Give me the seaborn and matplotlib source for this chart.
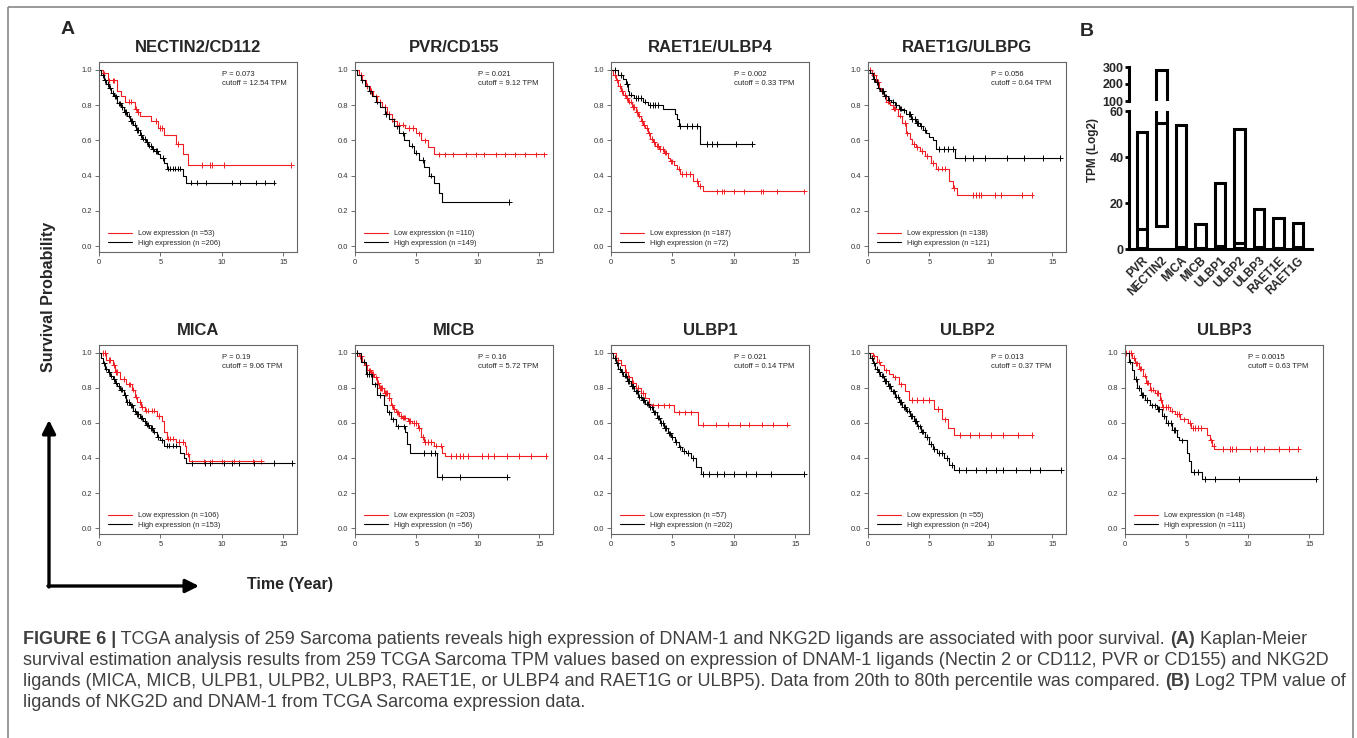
import numpy as np
import pandas as pd
import seaborn as sns
import matplotlib.pyplot as plt
from matplotlib.lines import Line2D
from matplotlib.patches import Rectangle

# ---------------- Kaplan-Meier data (years, survival probability) ----------------
# NECTIN2/CD112
nectin2_low_t = [0, 0.3, 0.7, 1.5, 1.8, 2.1, 2.9, 3.1, 3.3, 4.25, 4.8, 5.3, 6.3, 6.8, 7.2, 15.6]
nectin2_low_s = [1.0, 0.98, 0.94, 0.88, 0.85, 0.82, 0.78, 0.76, 0.74, 0.71, 0.67, 0.63, 0.58, 0.52, 0.46, 0.46]
nectin2_low_c = [0.4, 0.8, 1.1, 1.2, 2.4, 2.6, 3.0, 3.15, 4.6, 5.0, 5.1, 6.4, 8.4, 9.0, 9.2, 10.2, 15.6]
nectin2_high_t = [0, 0.2, 0.4, 0.6, 0.8, 1.0, 1.2, 1.5, 1.8, 2.0, 2.3, 2.5, 2.8, 3.0, 3.3, 3.5, 3.8, 4.0,
                  4.3, 4.5, 4.8, 5.0, 5.3, 5.5, 6.8, 7.1, 14.2]
nectin2_high_s = [1.0, 0.97, 0.94, 0.92, 0.90, 0.87, 0.85, 0.81, 0.79, 0.76, 0.74, 0.71, 0.69, 0.66, 0.63, 0.61,
                  0.59, 0.57, 0.55, 0.54, 0.52, 0.50, 0.47, 0.44, 0.40, 0.36, 0.36]
nectin2_high_c = [0.3, 0.5, 0.7, 0.9, 1.1, 1.3, 1.4, 1.6, 1.7, 1.9, 2.1, 2.2, 2.4, 2.6, 2.7, 2.9, 3.1, 3.2, 3.4,
                  3.6, 3.7, 3.9, 4.1, 4.2, 4.4, 4.6, 4.7, 5.2, 5.6, 5.8, 6.0, 6.2, 6.4, 6.6, 7.5, 8.0, 8.7,
                  10.8, 11.5, 12.8, 13.5, 14.2]

# PVR/CD155
pvr_low_t = [0, 0.3, 0.6, 0.9, 1.2, 1.5, 1.8, 2.2, 2.6, 3.0, 3.4, 4.1, 5.0, 5.4, 5.9, 6.4, 15.4]
pvr_low_s = [1.0, 0.97, 0.94, 0.91, 0.88, 0.85, 0.82, 0.79, 0.75, 0.71, 0.69, 0.67, 0.64, 0.60, 0.56, 0.52, 0.52]
pvr_low_c = [0.5, 1.0, 1.3, 1.7, 2.0, 2.4, 2.8, 3.2, 3.6, 3.9, 4.4, 4.7, 5.2, 5.7, 6.8, 7.3, 8.0, 9.0, 9.8,
             10.5, 11.5, 12.2, 13.0, 13.8, 14.7, 15.4]
pvr_high_t = [0, 0.2, 0.5, 0.8, 1.1, 1.4, 1.7, 2.0, 2.4, 2.8, 3.2, 3.6, 4.0, 4.4, 4.8, 5.2, 5.6, 6.0, 6.4, 6.8,
              7.1, 12.5]
pvr_high_s = [1.0, 0.97, 0.94, 0.91, 0.88, 0.85, 0.82, 0.79, 0.75, 0.72, 0.68, 0.64, 0.60, 0.57, 0.53, 0.49,
              0.45, 0.40, 0.36, 0.30, 0.25, 0.25]
pvr_high_c = [0.6, 1.2, 1.8, 2.5, 3.0, 3.4, 3.9, 4.6, 5.0, 5.5, 6.2, 12.5]

# RAET1E/ULBP4
raet1e_low_t = [0, 0.2, 0.4, 0.6, 0.8, 1.0, 1.2, 1.4, 1.7, 2.0, 2.2, 2.4, 2.6, 2.8, 3.0, 3.2, 3.4, 3.6, 3.9,
                4.3, 4.6, 4.8, 5.1, 5.4, 5.6, 6.7, 7.1, 7.5, 15.7]
raet1e_low_s = [1.0, 0.97, 0.94, 0.91, 0.88, 0.86, 0.84, 0.82, 0.79, 0.76, 0.74, 0.71, 0.69, 0.67, 0.64, 0.61,
                0.59, 0.57, 0.55, 0.53, 0.50, 0.48, 0.46, 0.44, 0.41, 0.37, 0.34, 0.31, 0.31]
raet1e_low_c = [0.3, 0.5, 0.7, 0.9, 1.1, 1.3, 1.5, 1.6, 1.8, 1.9, 2.1, 2.3, 2.5, 2.7, 2.9, 3.1, 3.3, 3.5, 3.7,
                3.8, 4.0, 4.2, 4.4, 4.5, 4.9, 5.0, 5.5, 5.8, 6.1, 6.4, 7.0, 7.2, 8.6, 9.0, 9.2, 10.0, 10.8,
                12.2, 12.4, 13.5, 15.7]
raet1e_high_t = [0, 0.6, 1.0, 1.2, 1.35, 1.5, 1.9, 2.6, 3.0, 4.25, 5.2, 5.35, 5.5, 7.2, 11.45]
raet1e_high_s = [1.0, 0.97, 0.95, 0.92, 0.88, 0.86, 0.84, 0.82, 0.80, 0.78, 0.75, 0.72, 0.68, 0.58, 0.58]
raet1e_high_c = [0.3, 0.8, 1.3, 1.6, 2.0, 2.2, 2.4, 2.8, 3.2, 3.4, 3.6, 3.8, 5.6, 6.2, 6.6, 7.0, 7.8, 8.2, 8.6,
                 10.2, 11.45]

# RAET1G/ULBPG
raet1g_low_t = [0, 0.3, 0.65, 0.9, 1.05, 1.3, 1.5, 1.8, 2.0, 2.4, 2.8, 3.1, 3.4, 3.6, 3.9, 4.2, 4.6, 5.1, 5.5,
                6.6, 6.9, 7.2, 13.3]
raet1g_low_s = [1.0, 0.97, 0.93, 0.90, 0.88, 0.85, 0.82, 0.80, 0.78, 0.74, 0.70, 0.64, 0.61, 0.58, 0.56, 0.54,
                0.51, 0.47, 0.44, 0.37, 0.33, 0.29, 0.29]
raet1g_low_c = [0.2, 0.5, 0.8, 1.1, 1.2, 1.6, 1.7, 2.1, 2.2, 2.6, 3.0, 3.2, 3.7, 4.0, 4.4, 4.8, 5.3, 5.7, 6.0,
                6.3, 7.0, 8.5, 8.8, 9.0, 9.2, 10.3, 10.8, 12.5, 13.3]
raet1g_high_t = [0, 0.2, 0.4, 0.6, 0.8, 1.0, 1.3, 1.6, 1.9, 2.2, 2.5, 2.8, 3.1, 3.5, 3.9, 4.2, 4.5, 4.7, 5.0,
                 5.3, 5.5, 7.1, 15.6]
raet1g_high_s = [1.0, 0.98, 0.95, 0.93, 0.90, 0.88, 0.85, 0.83, 0.82, 0.80, 0.78, 0.77, 0.75, 0.72, 0.70, 0.68,
                 0.66, 0.64, 0.62, 0.60, 0.55, 0.50, 0.50]
raet1g_high_c = [0.3, 0.5, 0.7, 0.9, 1.1, 1.2, 1.4, 1.5, 1.7, 2.0, 2.3, 2.6, 2.7, 2.9, 3.3, 3.4, 3.6, 3.8, 4.0,
                 4.1, 4.3, 4.6, 5.8, 6.2, 6.5, 6.9, 7.9, 8.5, 9.5, 11.3, 12.7, 14.2, 15.6]

# MICA
mica_low_t = [0, 0.6, 1.1, 1.3, 1.7, 2.2, 2.7, 2.9, 3.1, 3.4, 3.7, 4.7, 5.1, 5.3, 5.5, 6.3, 7.0, 7.1, 7.3, 13.2]
mica_low_s = [1.0, 0.96, 0.93, 0.89, 0.85, 0.82, 0.79, 0.75, 0.72, 0.69, 0.67, 0.64, 0.61, 0.55, 0.51, 0.49,
              0.47, 0.42, 0.38, 0.38]
mica_low_c = [0.3, 0.5, 0.8, 0.9, 1.2, 1.4, 1.5, 2.0, 2.4, 2.5, 2.8, 3.0, 3.3, 3.5, 3.8, 4.0, 4.3, 4.5, 4.9,
              5.6, 5.8, 6.0, 6.5, 6.8, 7.2, 8.5, 9.2, 10.0, 11.0, 12.5, 13.2]
mica_high_t = [0, 0.15, 0.3, 0.5, 0.7, 0.9, 1.1, 1.3, 1.5, 1.7, 2.0, 2.2, 2.5, 2.8, 3.0, 3.3, 3.6, 3.85, 4.1,
               4.4, 4.7, 5.0, 5.3, 6.6, 6.9, 7.05, 15.7]
mica_high_s = [1.0, 0.97, 0.94, 0.91, 0.89, 0.87, 0.85, 0.83, 0.81, 0.79, 0.76, 0.72, 0.70, 0.67, 0.65, 0.63,
               0.61, 0.59, 0.57, 0.55, 0.52, 0.50, 0.47, 0.43, 0.40, 0.37, 0.37]
mica_high_c = [0.4, 0.6, 0.8, 1.0, 1.2, 1.4, 1.6, 1.8, 1.9, 2.1, 2.3, 2.4, 2.6, 2.7, 2.9, 3.1, 3.2, 3.4, 3.5,
               3.7, 3.9, 4.0, 4.2, 4.3, 4.5, 4.8, 5.1, 5.5, 5.7, 6.0, 6.3, 7.6, 8.6, 9.0, 10.2, 10.8, 11.4,
               12.6, 14.2, 15.7]

# MICB
micb_low_t = [0, 0.3, 0.6, 0.8, 1.0, 1.3, 1.55, 1.8, 1.95, 2.35, 2.75, 2.9, 3.1, 3.3, 3.6, 3.85, 4.3, 4.65,
              5.1, 5.35, 5.6, 6.4, 7.1, 7.3, 15.5]
micb_low_s = [1.0, 0.98, 0.95, 0.93, 0.90, 0.88, 0.86, 0.83, 0.80, 0.77, 0.74, 0.70, 0.68, 0.66, 0.64, 0.63,
              0.61, 0.60, 0.57, 0.52, 0.49, 0.47, 0.43, 0.41, 0.41]
micb_low_c = [0.2, 0.4, 0.5, 0.7, 0.9, 1.1, 1.2, 1.4, 1.5, 1.7, 1.9, 2.0, 2.1, 2.2, 2.4, 2.5, 2.6, 2.8, 3.0,
              3.2, 3.4, 3.5, 3.7, 3.9, 4.0, 4.1, 4.4, 4.5, 4.8, 5.0, 5.2, 5.5, 5.7, 5.9, 6.2, 6.6, 7.0, 7.8,
              8.2, 8.5, 8.8, 9.2, 10.3, 10.8, 11.3, 12.4, 13.3, 14.3, 15.5]
micb_high_t = [0, 0.45, 0.87, 1.4, 1.8, 2.35, 2.6, 2.9, 3.3, 4.1, 4.25, 4.45, 6.7, 12.4]
micb_high_s = [1.0, 0.95, 0.88, 0.82, 0.76, 0.70, 0.66, 0.62, 0.58, 0.55, 0.48, 0.43, 0.29, 0.29]
micb_high_c = [0.2, 0.7, 1.0, 1.1, 1.3, 1.6, 2.0, 2.8, 3.1, 3.5, 4.0, 5.6, 6.2, 6.5, 7.1, 8.5, 12.4]

# ULBP1
ulbp1_low_t = [0, 0.4, 0.8, 1.1, 1.4, 1.7, 2.0, 2.4, 2.8, 3.1, 5.1, 7.1, 14.3]
ulbp1_low_s = [1.0, 0.96, 0.93, 0.89, 0.86, 0.83, 0.80, 0.77, 0.74, 0.70, 0.66, 0.59, 0.59]
ulbp1_low_c = [0.6, 1.2, 1.5, 1.8, 2.2, 2.6, 3.4, 3.8, 4.3, 4.7, 5.5, 6.0, 6.5, 7.5, 8.5, 9.5, 10.5, 11.2,
               12.3, 13.2, 14.3]
ulbp1_high_t = [0, 0.2, 0.4, 0.6, 0.8, 1.0, 1.3, 1.6, 1.9, 2.2, 2.5, 2.8, 3.1, 3.4, 3.7, 4.0, 4.3, 4.6, 4.9,
                5.2, 5.5, 5.8, 6.1, 6.5, 6.9, 7.3, 15.7]
ulbp1_high_s = [1.0, 0.97, 0.94, 0.91, 0.89, 0.87, 0.84, 0.81, 0.78, 0.75, 0.73, 0.71, 0.69, 0.66, 0.63, 0.60,
                0.57, 0.54, 0.52, 0.49, 0.46, 0.44, 0.43, 0.40, 0.35, 0.31, 0.31]
ulbp1_high_c = [0.3, 0.5, 0.7, 0.9, 1.1, 1.2, 1.4, 1.5, 1.7, 1.8, 2.0, 2.1, 2.3, 2.4, 2.6, 2.7, 2.9, 3.0, 3.2,
                3.3, 3.5, 3.6, 3.8, 3.9, 4.1, 4.2, 4.4, 4.5, 4.7, 4.8, 5.0, 5.3, 5.6, 5.9, 6.3, 6.7, 7.5, 8.0,
                8.6, 9.2, 10.0, 11.0, 11.8, 13.0, 15.7]

# ULBP2
ulbp2_low_t = [0, 0.4, 0.7, 1.0, 1.3, 1.7, 2.0, 2.5, 3.0, 3.3, 5.4, 6.0, 6.5, 7.0, 13.3]
ulbp2_low_s = [1.0, 0.98, 0.95, 0.93, 0.90, 0.88, 0.86, 0.82, 0.78, 0.73, 0.68, 0.62, 0.57, 0.53, 0.53]
ulbp2_low_c = [0.5, 0.9, 1.5, 2.2, 2.7, 3.6, 4.0, 4.5, 5.0, 5.7, 6.3, 7.5, 8.3, 9.0, 10.0, 11.0, 12.2, 13.3]
ulbp2_high_t = [0, 0.2, 0.4, 0.6, 0.8, 1.0, 1.3, 1.6, 1.9, 2.2, 2.5, 2.8, 3.1, 3.4, 3.7, 4.0, 4.3, 4.6, 5.0,
                5.3, 5.6, 6.2, 6.6, 7.0, 15.7]
ulbp2_high_s = [1.0, 0.97, 0.94, 0.91, 0.89, 0.87, 0.84, 0.81, 0.78, 0.75, 0.72, 0.69, 0.67, 0.64, 0.61, 0.58,
                0.55, 0.52, 0.48, 0.45, 0.43, 0.40, 0.36, 0.33, 0.33]
ulbp2_high_c = [0.3, 0.5, 0.7, 0.9, 1.1, 1.2, 1.4, 1.5, 1.7, 1.8, 2.0, 2.1, 2.3, 2.4, 2.6, 2.7, 2.9, 3.0, 3.2,
                3.3, 3.5, 3.6, 3.8, 3.9, 4.1, 4.2, 4.4, 4.5, 4.8, 5.1, 5.4, 5.8, 6.0, 6.4, 6.8, 7.4, 8.0, 8.8,
                9.6, 10.4, 11.0, 12.0, 13.2, 14.0, 15.7]

# ULBP3
ulbp3_low_t = [0, 0.55, 0.8, 1.15, 1.45, 1.7, 2.0, 2.45, 2.85, 3.0, 3.65, 4.05, 4.5, 5.15, 5.4, 6.65, 6.9,
               7.05, 7.25, 14.1]
ulbp3_low_s = [1.0, 0.97, 0.94, 0.91, 0.87, 0.83, 0.79, 0.77, 0.73, 0.69, 0.67, 0.65, 0.62, 0.60, 0.57, 0.53,
               0.50, 0.47, 0.45, 0.45]
ulbp3_low_c = [0.1, 0.3, 0.5, 0.7, 0.9, 1.0, 1.2, 1.3, 1.6, 1.8, 1.9, 2.1, 2.3, 2.6, 2.7, 2.9, 3.1, 3.3, 3.5,
               3.8, 4.2, 4.4, 4.8, 5.3, 5.5, 5.7, 5.9, 6.2, 7.0, 7.2, 8.0, 8.5, 8.7, 9.0, 10.2, 10.7, 11.3,
               12.5, 13.3, 14.1]
ulbp3_high_t = [0, 0.3, 0.55, 0.75, 0.95, 1.27, 1.6, 2.0, 2.6, 3.0, 3.35, 3.8, 4.2, 4.4, 5.05, 5.2, 5.35, 6.3,
                15.5]
ulbp3_high_s = [1.0, 0.95, 0.90, 0.85, 0.80, 0.76, 0.73, 0.70, 0.68, 0.64, 0.60, 0.56, 0.52, 0.50, 0.43, 0.38,
                0.32, 0.28, 0.28]
ulbp3_high_c = [0.4, 0.9, 1.1, 1.4, 1.5, 1.8, 2.2, 2.4, 2.7, 2.8, 3.2, 3.5, 3.7, 4.0, 4.1, 4.6, 5.6, 5.9,
                6.5, 7.3, 9.3, 15.5]

# panel titles, stats
titles = ["NECTIN2/CD112", "PVR/CD155", "RAET1E/ULBP4", "RAET1G/ULBPG",
          "MICA", "MICB", "ULBP1", "ULBP2", "ULBP3"]
p_values = ["0.073", "0.021", "0.002", "0.056", "0.19", "0.16", "0.021", "0.013", "0.0015"]
cutoffs = ["12.54", "9.12", "0.33", "0.64", "9.06", "5.72", "0.14", "0.37", "0.63"]
n_low = [53, 110, 187, 138, 106, 203, 57, 55, 148]
n_high = [206, 149, 72, 121, 153, 56, 202, 204, 111]

# ---------------- panel B data (TPM, log2) ----------------
genes = ["PVR", "NECTIN2", "MICA", "MICB", "ULBP1", "ULBP2", "ULBP3", "RAET1E", "RAET1G"]
tpm_min = [0.3, 10, 0.3, 0.3, 0.3, 0.3, 0.3, 0.3, 0.3]
tpm_max = [51.0, 280, 54.0, 11.0, 28.9, 52.0, 17.4, 13.3, 11.3]
tpm_mid = [8.6, 55.0, 0.9, 0.6, 1.3, 2.4, 0.8, 0.6, 0.8]

curves = {
    "NECTIN2/CD112": (nectin2_low_t, nectin2_low_s, nectin2_low_c, nectin2_high_t, nectin2_high_s, nectin2_high_c),
    "PVR/CD155": (pvr_low_t, pvr_low_s, pvr_low_c, pvr_high_t, pvr_high_s, pvr_high_c),
    "RAET1E/ULBP4": (raet1e_low_t, raet1e_low_s, raet1e_low_c, raet1e_high_t, raet1e_high_s, raet1e_high_c),
    "RAET1G/ULBPG": (raet1g_low_t, raet1g_low_s, raet1g_low_c, raet1g_high_t, raet1g_high_s, raet1g_high_c),
    "MICA": (mica_low_t, mica_low_s, mica_low_c, mica_high_t, mica_high_s, mica_high_c),
    "MICB": (micb_low_t, micb_low_s, micb_low_c, micb_high_t, micb_high_s, micb_high_c),
    "ULBP1": (ulbp1_low_t, ulbp1_low_s, ulbp1_low_c, ulbp1_high_t, ulbp1_high_s, ulbp1_high_c),
    "ULBP2": (ulbp2_low_t, ulbp2_low_s, ulbp2_low_c, ulbp2_high_t, ulbp2_high_s, ulbp2_high_c),
    "ULBP3": (ulbp3_low_t, ulbp3_low_s, ulbp3_low_c, ulbp3_high_t, ulbp3_high_s, ulbp3_high_c),
}

sns.set_theme(style="white")
plt.rcParams["font.family"] = ["Liberation Sans", "DejaVu Sans"]

RED = "#f01e23"
W, H = 1357, 738
fig = plt.figure(figsize=(W / 100, H / 100), dpi=100)

# full-figure overlay in pixel coordinates for labels / arrows / caption
ax0 = fig.add_axes([0, 0, 1, 1])
ax0.set_xlim(0, W)
ax0.set_ylim(H, 0)
ax0.axis("off")


def px_axes(left, top, width, height):
    return fig.add_axes([left / W, 1 - (top + height) / H, width / W, height / H])


def km_panel(ax, i):
    title = titles[i]
    lt, ls, lc, ht, hs, hc = curves[title]
    lines = pd.DataFrame({
        "time": lt + ht,
        "surv": ls + hs,
        "group": ["low"] * len(lt) + ["high"] * len(ht),
    })
    # censor marks sit on the step curve
    cl = np.array(ls)[np.searchsorted(lt, lc, side="right") - 1]
    ch = np.array(hs)[np.searchsorted(ht, hc, side="right") - 1]
    marks = pd.DataFrame({
        "time": lc + hc,
        "surv": list(cl) + list(ch),
        "group": ["low"] * len(lc) + ["high"] * len(hc),
    })
    pal = {"low": RED, "high": "black"}
    sns.lineplot(data=lines, x="time", y="surv", hue="group", palette=pal, estimator=None,
                 sort=False, drawstyle="steps-post", linewidth=0.8, legend=False, ax=ax)
    sns.scatterplot(data=marks, x="time", y="surv", hue="group", palette=pal, marker="+",
                    s=16, linewidth=0.7, legend=False, ax=ax)
    ax.set_xlim(0, 16.1)
    ax.set_ylim(-0.034, 1.045)
    ax.set_xticks([0, 5, 10, 15])
    ax.set_yticks([0, 0.2, 0.4, 0.6, 0.8, 1.0])
    ax.set_yticklabels(["0.0", "0.2", "0.4", "0.6", "0.8", "1.0"])
    ax.set_xlabel("")
    ax.set_ylabel("")
    for sp in ax.spines.values():
        sp.set_color("#666666")
        sp.set_linewidth(0.8)
    ax.tick_params(left=True, bottom=True, length=3.2, width=0.6, color="#555555",
                   labelsize=5.5, labelcolor="#333333", pad=2)
    ax.set_title(title, fontsize=12, fontweight="bold", pad=7)
    ax.text(0.62, 0.955, f"P = {p_values[i]}\ncutoff = {cutoffs[i]} TPM", transform=ax.transAxes,
            va="top", ha="left", fontsize=5.5, linespacing=1.4)
    handles = [Line2D([], [], color=RED, lw=0.8), Line2D([], [], color="black", lw=0.8)]
    ax.legend(handles, [f"Low expression (n ={n_low[i]})", f"High expression (n ={n_high[i]})"],
              loc="lower left", bbox_to_anchor=(0.02, 0.0), frameon=False, fontsize=5.3,
              handlelength=3.2, handletextpad=0.8, labelspacing=0.35, borderaxespad=0.3)


top_lefts = [99, 355, 611, 868]
bot_lefts = [99, 355, 611, 868, 1125]
for i, left in enumerate(top_lefts):
    km_panel(px_axes(left, 62, 198, 190), i)
for j, left in enumerate(bot_lefts):
    km_panel(px_axes(left, 345, 198, 189), 4 + j)

# ---------------- panel B: broken-axis floating bars ----------------
xpos = np.arange(len(genes))
axB = px_axes(1129, 111, 183, 138)
axT = px_axes(1129, 67, 183, 34)
for a in (axB, axT):
    a.bar(xpos, np.array(tpm_max) - np.array(tpm_min), bottom=tpm_min, width=0.55,
          facecolor="white", edgecolor="black", linewidth=2.2)
    a.hlines(tpm_mid, xpos - 0.275, xpos + 0.275, color="black", linewidth=2.2)
    a.set_xlim(-0.67, 8.72)
    a.set_facecolor("none")
    for side in ("top", "right"):
        a.spines[side].set_visible(False)
    a.spines["left"].set_linewidth(2.2)
    a.spines["left"].set_color("black")
    a.spines["bottom"].set_linewidth(2.2)
    a.spines["bottom"].set_color("black")
    a.tick_params(left=True, length=3, width=2, color="black", labelsize=9, pad=1)

axB.set_ylim(0, 60)
axB.set_yticks([0, 20, 40, 60])
axB.set_xticks(xpos)
axB.set_xticklabels(genes, rotation=45, ha="right", rotation_mode="anchor", fontweight="bold", fontsize=8.5)
axB.tick_params(bottom=False)
for lab in axB.get_yticklabels():
    lab.set_fontweight("bold")

axT.set_ylim(100, 300)
axT.set_yticks([100, 200, 300])
axT.set_xticks([])
axT.spines["bottom"].set_visible(False)
for lab in axT.get_yticklabels():
    lab.set_fontweight("bold")

ax0.text(1093, 150, "TPM (Log2)", rotation=90, ha="center", va="center", fontsize=8.5, fontweight="bold")

# ---------------- labels, arrows, frame ----------------
ax0.text(68, 30, "A", fontsize=14, fontweight="bold", ha="center", va="center")
ax0.text(1087, 32, "B", fontsize=14, fontweight="bold", ha="center", va="center")
ax0.text(49, 297, "Survival Probability", rotation=90, fontsize=11.5, fontweight="bold",
         ha="center", va="center")
ax0.text(290, 585, "Time (Year)", fontsize=11.5, fontweight="bold", ha="center", va="center")
ax0.annotate("", xy=(49, 420), xytext=(49, 587),
             arrowprops=dict(arrowstyle="-|>", lw=2.4, color="black", mutation_scale=20,
                             shrinkA=0, shrinkB=0))
ax0.annotate("", xy=(199, 586), xytext=(48, 586),
             arrowprops=dict(arrowstyle="-|>", lw=2.4, color="black", mutation_scale=20,
                             shrinkA=0, shrinkB=0))
ax0.add_patch(Rectangle((7.5, 6.5), 1345, 800, fill=False, edgecolor="#888888", lw=1.2))

# ---------------- caption ----------------
CAP_FS = 12.95
CAP_COLOR = "#404040"
caption_lines = [
    [("FIGURE 6 |", True),
     (" TCGA analysis of 259 Sarcoma patients reveals high expression of DNAM-1 and NKG2D ligands are "
      "associated with poor survival. ", False), ("(A)", True), (" Kaplan-Meier", False)],
    [("survival estimation analysis results from 259 TCGA Sarcoma TPM values based on expression of DNAM-1 "
      "ligands (Nectin 2 or CD112, PVR or CD155) and NKG2D", False)],
    [("ligands (MICA, MICB, ULPB1, ULPB2, ULBP3, RAET1E, or ULBP4 and RAET1G or ULBP5). Data from 20th to "
      "80th percentile was compared. ", False), ("(B)", True), (" Log2 TPM value of", False)],
    [("ligands of NKG2D and DNAM-1 from TCGA Sarcoma expression data.", False)],
]
renderer = fig.canvas.get_renderer()
for k, parts in enumerate(caption_lines):
    x = 23
    y = 639 + 21.3 * k
    for txt, bold in parts:
        t = ax0.text(x, y, txt, fontsize=CAP_FS, fontweight="bold" if bold else "normal",
                     color=CAP_COLOR, ha="left", va="center")
        x += t.get_window_extent(renderer).width

fig.savefig("out.png", dpi=100)
